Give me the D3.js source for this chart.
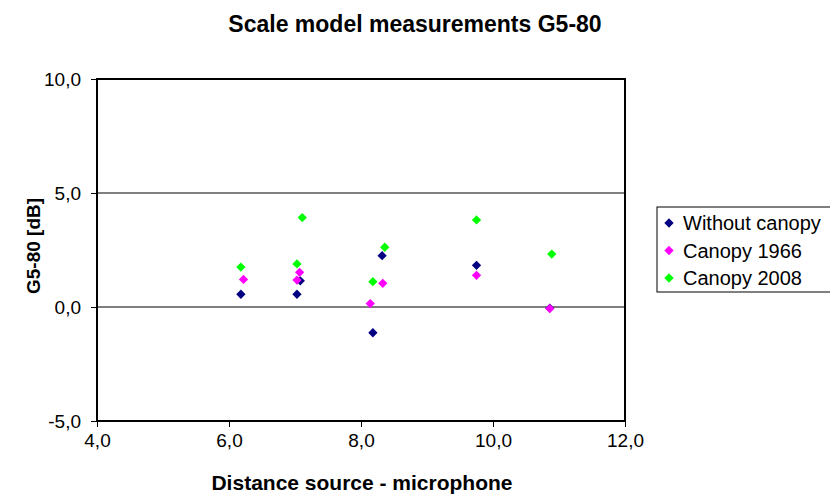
<!DOCTYPE html>
<html>
<head>
<meta charset="utf-8">
<script src="https://cdn.jsdelivr.net/npm/d3@7"></script>
<style>
    body { margin: 0; background: #fff; }
    text { font-family: "Liberation Sans", Arial, sans-serif; fill: #000; }
</style>
</head>
<body>
<div id="chart"></div>
<script>
// values
var seriesNames = ["Without canopy", "Canopy 1966", "Canopy 2008"];
var seriesColors = ["#000080", "#ff00ff", "#00ff00"];
var withoutCanopyX = [6.18, 7.03, 7.08, 8.18, 8.32, 9.75, 10.86];
var withoutCanopyY = [0.56, 0.56, 1.15, -1.13, 2.25, 1.83, -0.05];
var canopy1966X = [6.22, 7.03, 7.07, 8.14, 8.33, 9.75, 10.86];
var canopy1966Y = [1.21, 1.18, 1.52, 0.15, 1.04, 1.39, -0.07];
var canopy2008X = [6.18, 7.03, 7.11, 8.18, 8.36, 9.75, 10.89];
var canopy2008Y = [1.75, 1.89, 3.92, 1.11, 2.62, 3.82, 2.32];
var xTicks = [4, 6, 8, 10, 12];
var yTicks = [-5, 0, 5, 10];

(function () {
    var width = 830, height = 495;
    var plotLeft = 97, plotRight = 625, plotTop = 79, plotBottom = 421;

    var svg = d3.select("#chart").append("svg")
        .attr("width", width)
        .attr("height", height);

    var x = d3.scaleLinear().domain([4, 12]).range([plotLeft, plotRight]);
    var y = d3.scaleLinear().domain([-5, 10]).range([plotBottom, plotTop]);
    // comma decimals and a plain hyphen for minus, like the original
    var fmt = function (d) { return d3.format(".1f")(d).replace(".", ",").replace("\u2212", "-"); };

    // grid lines
    svg.selectAll("line.grid")
        .data(yTicks.filter(function (d) { return d > -5 && d < 10; }))
        .enter().append("line")
        .attr("class", "grid")
        .attr("x1", plotLeft).attr("x2", plotRight)
        .attr("y1", function (d) { return y(d); })
        .attr("y2", function (d) { return y(d); })
        .attr("stroke", "#000")
        .attr("stroke-width", 1);

    // axes
    var xAxis = svg.append("g")
        .attr("transform", "translate(0," + plotBottom + ")")
        .call(d3.axisBottom(x).tickValues(xTicks).tickFormat(fmt).tickSize(6).tickPadding(7));
    var yAxis = svg.append("g")
        .attr("transform", "translate(" + plotLeft + ",0)")
        .call(d3.axisLeft(y).tickValues(yTicks).tickFormat(fmt).tickSize(6).tickPadding(10));
    [xAxis, yAxis].forEach(function (g) {
        g.select(".domain").remove();
        g.selectAll(".tick line").attr("stroke", "#000");
        g.selectAll(".tick text")
            .attr("font-family", "'Liberation Sans', Arial, sans-serif")
            .attr("font-size", "19px")
            .attr("fill", "#000");
    });

    // plot frame
    svg.append("rect")
        .attr("x", plotLeft).attr("y", plotTop)
        .attr("width", plotRight - plotLeft).attr("height", plotBottom - plotTop)
        .attr("fill", "none")
        .attr("stroke", "#000")
        .attr("stroke-width", 2);

    // points
    var series = [
        {xs: withoutCanopyX, ys: withoutCanopyY},
        {xs: canopy1966X, ys: canopy1966Y},
        {xs: canopy2008X, ys: canopy2008Y}
    ];
    var diamond = d3.symbol().type(d3.symbolDiamond2).size(55);
    series.forEach(function (s, i) {
        svg.append("g").selectAll("path")
            .data(s.xs)
            .enter().append("path")
            .attr("d", diamond)
            .attr("transform", function (d, j) {
                return "translate(" + x(d) + "," + y(s.ys[j]) + ")";
            })
            .attr("fill", seriesColors[i]);
    });

    // titles
    svg.append("text")
        .attr("x", 415).attr("y", 32)
        .attr("text-anchor", "middle")
        .attr("font-size", "23px")
        .attr("font-weight", "bold")
        .text("Scale model measurements G5-80");
    svg.append("text")
        .attr("x", 362).attr("y", 490)
        .attr("text-anchor", "middle")
        .attr("font-size", "21px")
        .attr("font-weight", "bold")
        .text("Distance source - microphone");
    svg.append("text")
        .attr("transform", "translate(40,246) rotate(-90)")
        .attr("text-anchor", "middle")
        .attr("font-size", "19px")
        .attr("font-weight", "bold")
        .text("G5-80 [dB]");

    // legend
    var legend = svg.append("g");
    legend.append("rect")
        .attr("x", 657).attr("y", 207)
        .attr("width", 180).attr("height", 85)
        .attr("fill", "#fff")
        .attr("stroke", "#000")
        .attr("stroke-width", 1);
    var rows = legend.selectAll("g.row")
        .data(seriesNames)
        .enter().append("g")
        .attr("transform", function (d, i) { return "translate(669," + (223 + i * 27.5) + ")"; });
    rows.append("path")
        .attr("d", diamond)
        .attr("fill", function (d, i) { return seriesColors[i]; });
    rows.append("text")
        .attr("x", 14).attr("dy", "0.36em")
        .attr("font-size", "20px")
        .text(function (d) { return d; });
})();
</script>
</body>
</html>
